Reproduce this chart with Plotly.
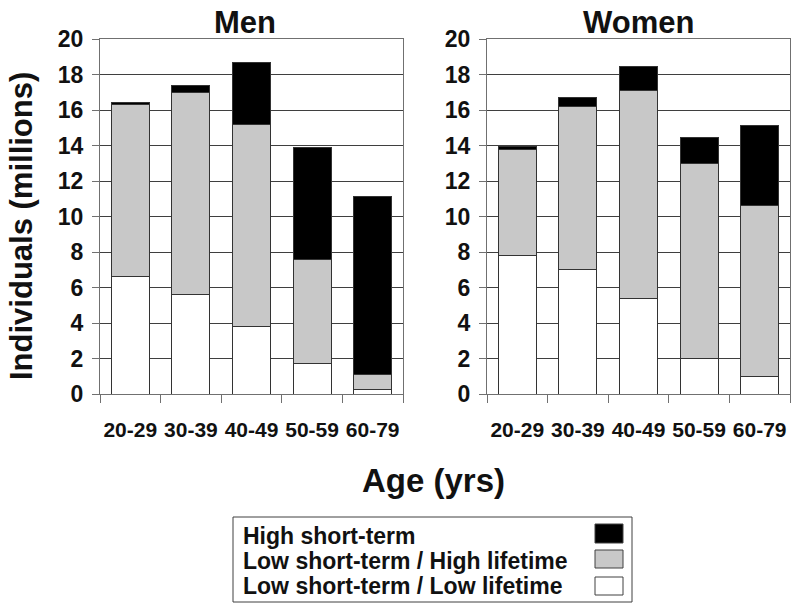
import plotly.graph_objects as go

categories = ["20-29", "30-39", "40-49", "50-59", "60-79"]
series_names = ["High short-term", "Low short-term / High lifetime", "Low short-term / Low lifetime"]

men_low_low = [6.6, 5.6, 3.8, 1.7, 0.28]
men_low_high = [9.7, 11.4, 11.4, 5.9, 0.82]
men_high_short = [0.15, 0.4, 3.5, 6.3, 10.0]

women_low_low = [7.8, 7.0, 5.4, 2.0, 1.0]
women_low_high = [6.0, 9.2, 11.7, 11.0, 9.6]
women_high_short = [0.15, 0.5, 1.35, 1.45, 4.5]

y_ticks = [0, 2, 4, 6, 8, 10, 12, 14, 16, 18, 20]

W, H = 800, 612
def px(x):
    return x / W
def py(y):
    return 1 - y / H

FONT = "Liberation Sans, Arial, sans-serif"
fills = {"High short-term": "#000000",
         "Low short-term / High lifetime": "#c8c8c8",
         "Low short-term / Low lifetime": "#ffffff"}
OUT = "#333333"

fig = go.Figure()
panels = [("x", "y", men_low_low, men_low_high, men_high_short),
          ("x2", "y2", women_low_low, women_low_high, women_high_short)]
for xa, ya, lo, mid, hi in panels:
    for name, vals in [(series_names[2], lo), (series_names[1], mid), (series_names[0], hi)]:
        fig.add_trace(go.Bar(x=categories, y=vals, name=name, xaxis=xa, yaxis=ya,
                             width=0.63, showlegend=False, hoverinfo="skip",
                             marker=dict(color=fills[name], line=dict(color=OUT, width=1))))

axis_common_y = dict(range=[0, 20], tickvals=y_ticks, ticks="outside", ticklen=7,
                     tickcolor="#707070", showgrid=True, gridcolor="#3f3f3f", gridwidth=1,
                     showline=True, linecolor="#707070", linewidth=1, mirror=True,
                     tickfont=dict(family=FONT, size=23, color="#111", weight="bold"),
                     ticklabelstandoff=4, zeroline=False, automargin=False, fixedrange=True)
axis_common_x = dict(type="category", tickson="boundaries", ticks="outside", ticklen=8,
                     tickcolor="#707070", showgrid=False, showline=True, linecolor="#707070",
                     linewidth=1, mirror=True, tickangle=0,
                     tickfont=dict(family=FONT, size=21, color="#111", weight="bold"),
                     ticklabelstandoff=17, automargin=False, fixedrange=True)

fig.update_layout(
    width=W, height=H, margin=dict(l=0, r=0, t=0, b=0),
    paper_bgcolor="white", plot_bgcolor="white", barmode="stack", bargap=0.37,
    font=dict(family=FONT, color="#111"),
    xaxis=dict(domain=[px(100), px(403)], anchor="y", **axis_common_x),
    yaxis=dict(domain=[py(394), py(39)], anchor="x", **axis_common_y),
    xaxis2=dict(domain=[px(487), px(790)], anchor="y2", **axis_common_x),
    yaxis2=dict(domain=[py(394), py(39)], anchor="x2", **axis_common_y),
)

ann = []
ann.append(dict(text="Men", x=px(245), y=py(23), xref="paper", yref="paper",
                xanchor="center", yanchor="middle", showarrow=False,
                font=dict(family=FONT, size=31, color="#111", weight="bold")))
ann.append(dict(text="Women", x=px(638), y=py(23), xref="paper", yref="paper",
                xanchor="center", yanchor="middle", showarrow=False,
                font=dict(family=FONT, size=31, color="#111", weight="bold")))
ann.append(dict(text="Individuals (millions)", x=px(21), y=py(226), xref="paper", yref="paper",
                xanchor="center", yanchor="middle", showarrow=False, textangle=-90,
                font=dict(family=FONT, size=31, color="#111", weight="bold")))
ann.append(dict(text="Age (yrs)", x=px(433), y=py(480), xref="paper", yref="paper",
                xanchor="center", yanchor="middle", showarrow=False,
                font=dict(family=FONT, size=33, color="#111", weight="bold")))

shapes = []
shapes.append(dict(type="rect", xref="paper", yref="paper", x0=px(233), x1=px(632),
                   y0=py(602), y1=py(517), line=dict(color="#404040", width=1),
                   fillcolor="white", layer="below"))
row_y = [536, 561, 586]
sw_y = [(524, 543), (550, 568), (577, 595)]
for name, yc, (s0, s1) in zip(series_names, row_y, sw_y):
    ann.append(dict(text=name, x=px(241), y=py(yc), xref="paper", yref="paper",
                    xanchor="left", yanchor="middle", showarrow=False,
                    font=dict(family=FONT, size=23, color="#111", weight="bold")))
    shapes.append(dict(type="rect", xref="paper", yref="paper", x0=px(595), x1=px(623),
                       y0=py(s1), y1=py(s0), fillcolor=fills[name],
                       line=dict(color="#404040", width=1)))

fig.update_layout(annotations=ann, shapes=shapes)
fig.write_html("out.html", config={"displayModeBar": False, "staticPlot": True},
               post_script="document.body.style.margin='0';document.body.style.padding='0';")
